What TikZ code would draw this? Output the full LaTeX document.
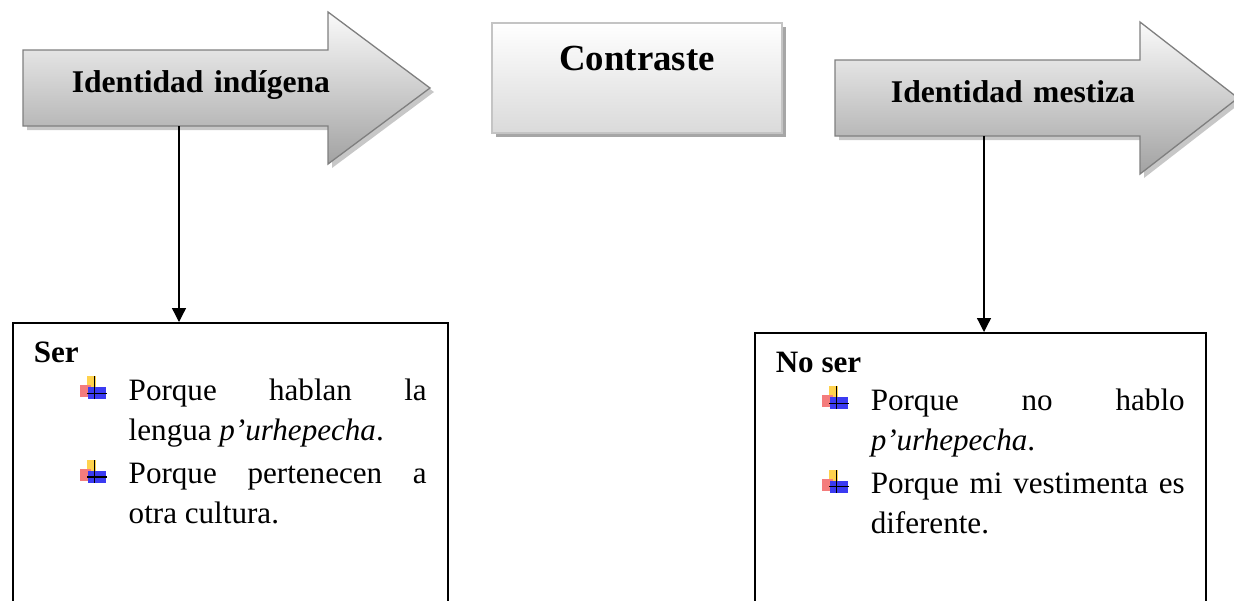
\documentclass[tikz,border=0pt]{standalone}
\usepackage{fontspec}
\setmainfont{Liberation Serif}
\usetikzlibrary{arrows.meta,shadows}

\definecolor{bulyel}{HTML}{FFD24D}
\definecolor{bulred}{HTML}{F47C7C}
\definecolor{bulblu}{HTML}{3B3BF2}
\definecolor{arrline}{HTML}{7F7F7F}
\definecolor{arrtop}{HTML}{FAFAFA}
\definecolor{arrbot}{HTML}{A2A2A2}
\definecolor{boxline}{HTML}{C4C4C4}
\definecolor{boxbot}{HTML}{DADADA}

\hyphenpenalty=10000
\exhyphenpenalty=10000
\tolerance=10000
\hbadness=10000

% no interword shrink, as in the original
\newcommand\noshrink{\fontdimen4\font=0pt\relax}

% four-colour bullet
\newcommand\bulicon{%
  \rlap{\hspace*{7pt}\textcolor{bulyel}{\rule[13pt]{9pt}{11pt}}}%
  \rlap{\textcolor{bulred}{\rule[3pt]{11pt}{12pt}}}%
  \rlap{\hspace*{8pt}\textcolor{bulblu}{\rule[1pt]{18pt}{12pt}}}%
  \rlap{\hspace*{14.4pt}\rule[1pt]{1.3pt}{23pt}}%
  \rlap{\hspace*{7pt}\rule[6.2pt]{20pt}{1.3pt}}}
\newcommand\bulitem{\noindent\llap{\makebox[49pt][l]{\bulicon}}}

\begin{document}
\begin{tikzpicture}[x=1pt, y=-1pt,
    bigarrow/.style={draw=arrline, line width=1.3pt, top color=arrtop, bottom color=arrbot,
        drop shadow={shadow xshift=4pt, shadow yshift=-4pt, fill=black!22, opacity=1}},
    headtext/.style={minimum width=305pt, minimum height=76pt, inner sep=0pt,
        text width=302pt, align=right, text height=22pt, text depth=14pt,
        font=\fontsize{31.6}{38}\selectfont\bfseries},
    contrbox/.style={draw=boxline, line width=1.5pt, top color=white, bottom color=boxbot,
        minimum width=290pt, minimum height=110pt, inner sep=0pt,
        text height=26pt, text depth=42pt, font=\fontsize{36.8}{44}\selectfont\bfseries,
        drop shadow={shadow xshift=4pt, shadow yshift=-4pt, fill=black!35, opacity=1}},
    listbox/.style={draw, line width=1.5pt, anchor=north west, align=justify,
        inner xsep=21pt, inner ysep=19.5pt, text depth=260pt,
        font=\fontsize{31.1}{40}\selectfont\noshrink},
    conn/.style={line width=1.3pt, -{Triangle[length=14pt,width=14pt]}}]
    \useasboundingbox (0,0) rectangle (1234,600);

    % Arrows
    \path[bigarrow] (23,50) -- (328,50) -- (328,12) -- (430,88) -- (328,164)
        -- (328,126) -- (23,126) -- cycle;
    \path[bigarrow] (835,60) -- (1140,60) -- (1140,22) -- (1238,98) -- (1140,174)
        -- (1140,136) -- (835,136) -- cycle;

    % Nodes
    \node[headtext] (indig) at (179,88) {Identidad indígena};
    \node[headtext] (mest) at (984,98) {Identidad mestiza};
    \node[contrbox] (contr) at (637,78) {Contraste};

    \node[listbox, text width=393pt] (ser) at (12,322) {%
        {\bfseries Ser}\par\vspace{-2.5pt}
        \leftskip=95pt
        \bulitem Porque hablan la lengua \textit{p’urhepecha}.\par\vspace{3.5pt}
        \bulitem Porque pertenecen a otra cultura.\par};
    \node[listbox, text width=409pt] (noser) at (754,332) {%
        {\bfseries No ser}\par\vspace{-2.5pt}
        \leftskip=95pt
        \bulitem Porque no hablo \textit{p’urhepecha}.\par\vspace{3.5pt}
        \bulitem Porque mi vestimenta es diferente.\par};

    % Connectors
    \draw[conn] (indig.south) -- (indig.south |- ser.north);
    \draw[conn] (mest.south) -- (mest.south |- noser.north);
\end{tikzpicture}
\end{document}
